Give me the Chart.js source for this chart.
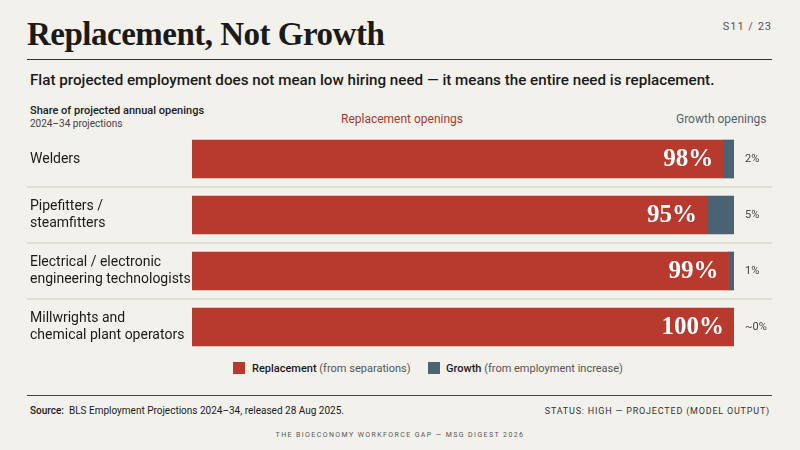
<!DOCTYPE html>
<html><head><meta charset="utf-8">
<script src="https://cdn.jsdelivr.net/npm/chart.js@4"></script>
<style>
body{margin:0;width:800px;height:450px;background:#f3f1ec;font-family:"Roboto","Noto Sans",sans-serif;position:relative;overflow:hidden;color:#1a1a1a}
.a{position:absolute;white-space:nowrap}
</style></head><body>
<div class="a" style="left:27px;top:16px;font-family:'Liberation Serif',serif;font-weight:bold;font-size:33px;letter-spacing:-0.5px">Replacement, Not Growth</div>
<div class="a" style="right:28px;top:20px;font-size:11px;color:#555;letter-spacing:1px">S11 / 23</div>
<div class="a" style="left:27px;top:59px;width:745px;height:1px;background:#333"></div>
<div class="a" style="left:30px;top:71px;font-size:15.2px;font-weight:500">Flat projected employment does not mean low hiring need — it means the entire need is replacement.</div>
<div class="a" style="left:30px;top:104px;font-size:11px;font-weight:500">Share of projected annual openings</div>
<div class="a" style="left:30px;top:118px;font-size:10px;color:#444">2024–34 projections</div>
<div class="a" style="left:341px;top:112px;font-size:12px;color:#a93a2c">Replacement openings</div>
<div class="a" style="left:676px;top:112px;font-size:12px;color:#4f6472">Growth openings</div>
<canvas id="c" style="position:absolute;left:0;top:131px;width:800px;height:224px"></canvas>
<div class="a" style="left:233px;top:362px;width:12px;height:12px;background:#b83a2e"></div>
<div class="a" style="left:252px;top:362px;font-size:11px"><b style="font-weight:500">Replacement</b> <span style="color:#555">(from separations)</span></div>
<div class="a" style="left:428px;top:362px;width:12px;height:12px;background:#4b6272"></div>
<div class="a" style="left:446px;top:362px;font-size:11px"><b style="font-weight:500">Growth</b> <span style="color:#555">(from employment increase)</span></div>
<div class="a" style="left:27px;top:395px;width:745px;height:1px;background:#444"></div>
<div class="a" style="left:30px;top:405px;font-size:10px"><b style="font-weight:500">Source:</b>&nbsp; BLS Employment Projections 2024–34, released 28 Aug 2025.</div>
<div class="a" style="right:30px;top:406px;font-size:9px;letter-spacing:0.8px;color:#333">STATUS: HIGH — PROJECTED (MODEL OUTPUT)</div>
<div class="a" style="left:0;width:800px;text-align:center;top:431px;font-size:7px;letter-spacing:1.4px;color:#555">THE BIOECONOMY WORKFORCE GAP — MSG DIGEST 2026</div>
<script>
const categories=[["Welders"],["Pipefitters /","steamfitters"],["Electrical / electronic","engineering technologists"],["Millwrights and","chemical plant operators"]];
const replacement=[98,95,99,100];
const growth=[2,5,1,0];
const growthLabels=["2%","5%","1%","~0%"];
const labelPlugin={id:"lbl",afterDatasetsDraw(ch){
 const ctx=ch.ctx,y=ch.scales.y,x=ch.scales.x;
 ctx.save();
 categories.forEach((c,i)=>{
  const cy=y.getPixelForValue(i);
  ctx.fillStyle="#1a1a1a";ctx.font="14px Roboto";ctx.textBaseline="middle";ctx.textAlign="left";
  const lh=17;c.forEach((t,j)=>ctx.fillText(t,30,cy+(j-(c.length-1)/2)*lh));
  ctx.font="bold 25px 'Liberation Serif'";ctx.fillStyle="#fff";ctx.textAlign="right";
  ctx.fillText(replacement[i]+"%",x.getPixelForValue(replacement[i])-10,cy+1);
  ctx.font="11px Roboto";ctx.fillStyle="#444";ctx.textAlign="left";
  ctx.fillText(growthLabels[i],745,cy);
  if(i>0){const sy=(cy+y.getPixelForValue(i-1))/2;ctx.strokeStyle="#cfcac2";ctx.lineWidth=1;ctx.beginPath();ctx.moveTo(27,sy);ctx.lineTo(772,sy);ctx.stroke();}
 });
 ctx.restore();}};
new Chart(document.getElementById("c"),{type:"bar",
 data:{labels:categories.map(c=>c.join(" ")),datasets:[
  {data:replacement,backgroundColor:"#b83a2e",barThickness:38},
  {data:growth,backgroundColor:"#4b6272",barThickness:38}]},
 options:{indexAxis:"y",responsive:false,animation:false,
  layout:{padding:{left:192,right:66,top:0,bottom:0}},
  plugins:{legend:{display:false},tooltip:{enabled:false}},
  scales:{x:{stacked:true,min:0,max:100,display:false},y:{stacked:true,display:false}}},
 plugins:[labelPlugin]});
</script>
</body></html>
